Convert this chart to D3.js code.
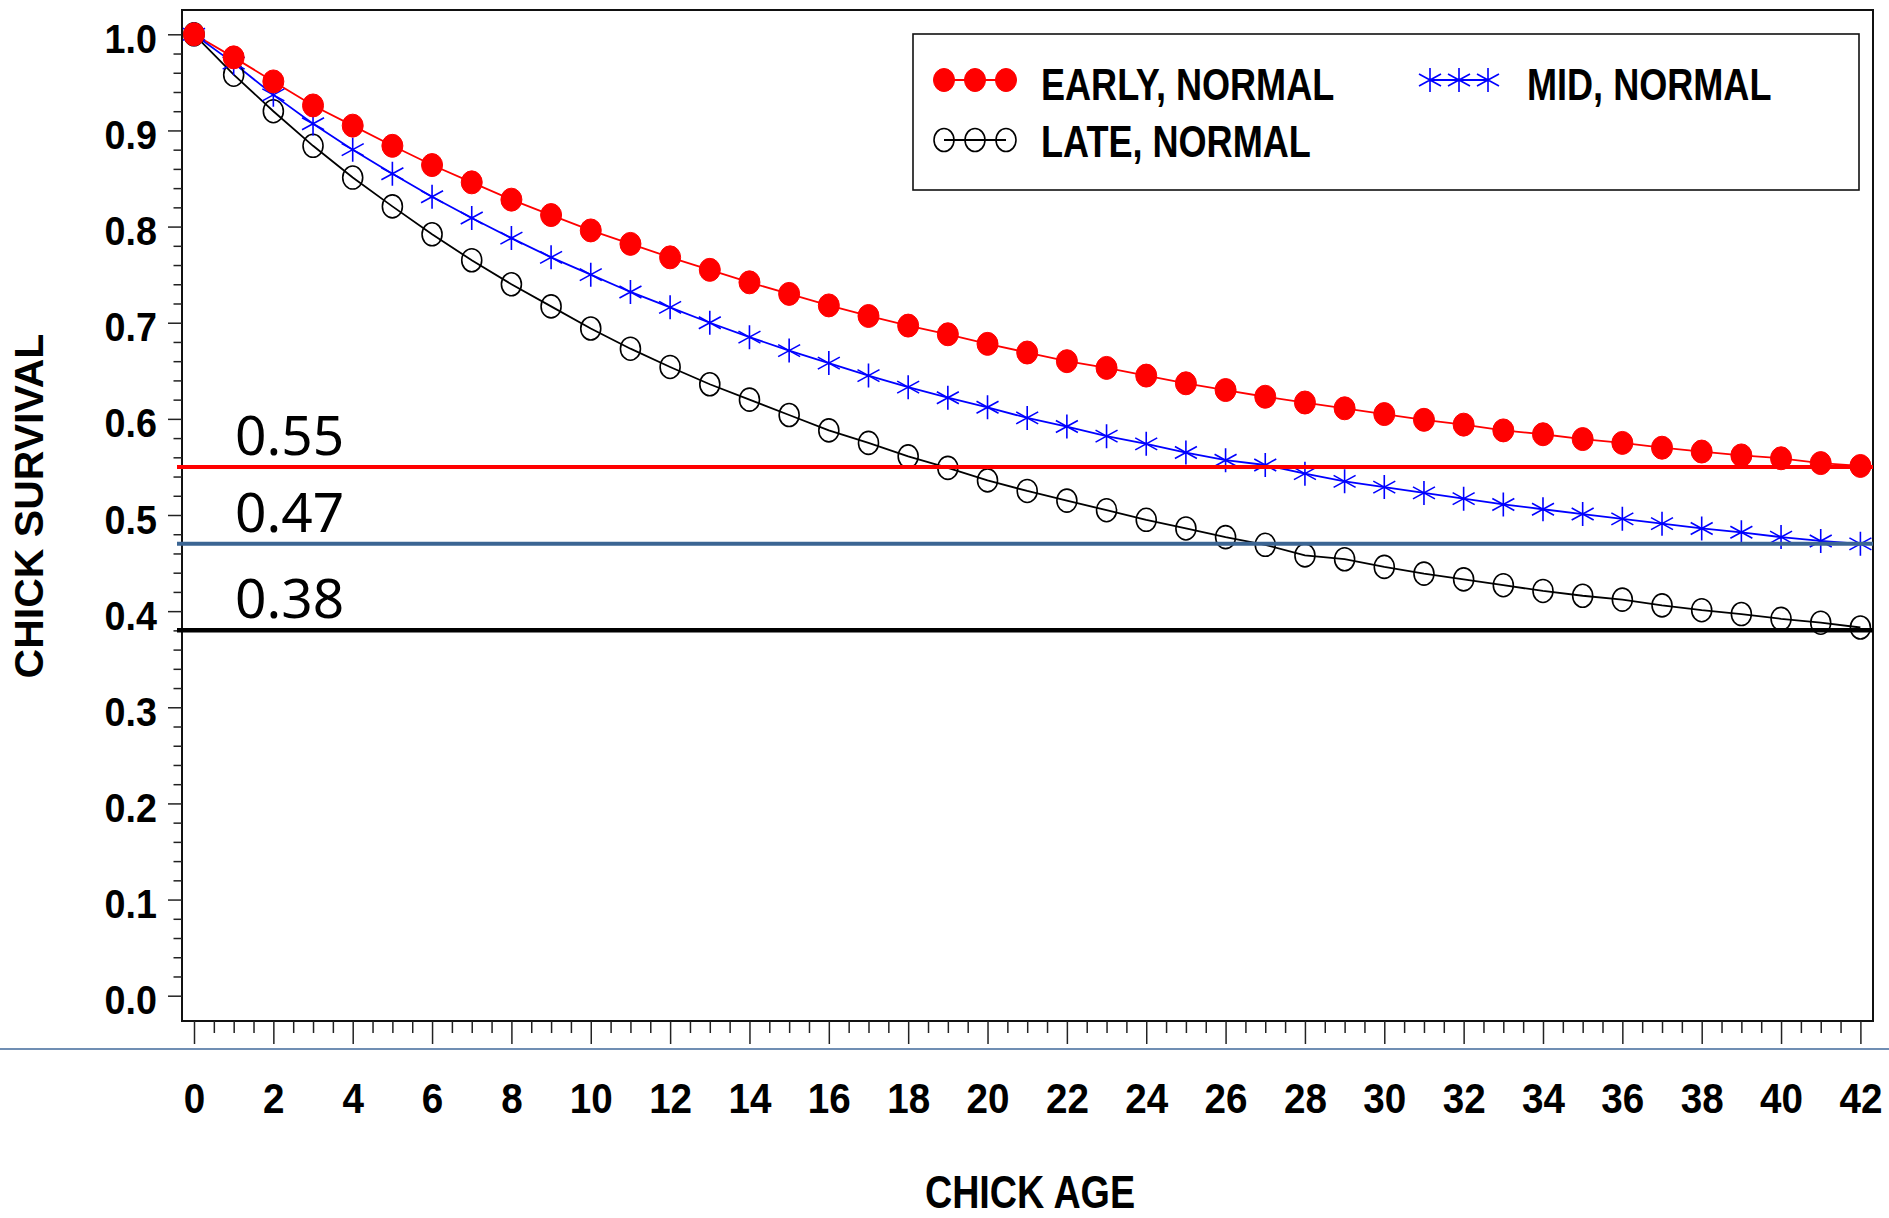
<!DOCTYPE html>
<html>
<head>
<meta charset="utf-8">
<script src="https://cdn.jsdelivr.net/npm/d3@7"></script>
<style>
  body { margin: 0; background: #fff; }
  svg { display: block; }
  .sas { font-family: "Liberation Sans", Arial, sans-serif; font-weight: bold; fill: #000; }
</style>
</head>
<body>
<svg id="chart"></svg>
<script>
// chick age (days)
const ages = [0,1,2,3,4,5,6,7,8,9,10,11,12,13,14,15,16,17,18,19,20,
  21,22,23,24,25,26,27,28,29,30,31,32,33,34,35,36,37,38,39,40,41,42];

const early = [1.000,0.976,0.951,0.926,0.905,0.884,0.864,0.846,0.828,0.812,0.796,
  0.782,0.768,0.755,0.742,0.730,0.718,0.707,0.697,0.688,0.678,0.669,0.660,0.653,
  0.645,0.637,0.630,0.623,0.617,0.611,0.605,0.599,0.594,0.588,0.584,0.579,0.575,
  0.570,0.566,0.562,0.559,0.554,0.551];
const mid = [1.000,0.970,0.937,0.907,0.880,0.855,0.831,0.809,0.788,0.768,0.750,
  0.732,0.716,0.700,0.685,0.671,0.658,0.645,0.633,0.622,0.612,0.601,0.592,0.582,
  0.574,0.565,0.557,0.552,0.543,0.535,0.529,0.523,0.517,0.511,0.506,0.501,0.496,
  0.491,0.486,0.482,0.477,0.473,0.470];
const late = [1.000,0.958,0.920,0.884,0.851,0.821,0.792,0.765,0.740,0.717,0.694,
  0.673,0.654,0.636,0.620,0.604,0.588,0.575,0.561,0.549,0.536,0.525,0.515,0.505,
  0.495,0.486,0.477,0.469,0.458,0.454,0.446,0.439,0.433,0.427,0.421,0.416,0.412,
  0.406,0.401,0.397,0.392,0.388,0.383];

const seriesNames = ["EARLY, NORMAL", "MID, NORMAL", "LATE, NORMAL"];
const refValues = [0.55, 0.47, 0.38];
const refLabels = ["0.55", "0.47", "0.38"];
const xTicks = [0,2,4,6,8,10,12,14,16,18,20,22,24,26,28,30,32,34,36,38,40,42];
const yTicks = [0.0,0.1,0.2,0.3,0.4,0.5,0.6,0.7,0.8,0.9,1.0];

const W = 1889, H = 1218;
const frame = {left: 182, right: 1873, top: 10, bottom: 1021};

const svg = d3.select("#chart").attr("width", W).attr("height", H);
svg.append("rect").attr("width", W).attr("height", H).attr("fill", "#fff");

const x = d3.scaleLinear().domain([0, 42]).range([194, 1860.4]);
const y = d3.scaleLinear().domain([0, 1]).range([995.7, 34.3]);

const colors = {early: "#ff0000", mid: "#0000ff", late: "#000000"};
const refColors = ["#ff0000", "#3b6593", "#000000"];

// condensed bold text like the SAS swiss font
function label(g, txt, tx, ty, size, sx, anchor) {
  return g.append("text").attr("class", "sas")
    .attr("transform", "translate(" + tx + "," + ty + ") scale(" + sx + ",1)")
    .attr("font-size", size)
    .attr("text-anchor", anchor || "start")
    .text(txt);
}

// markers
function drawDot(g, cx, cy) {
  g.append("ellipse").attr("cx", cx).attr("cy", cy).attr("rx", 10.5).attr("ry", 11.5)
    .attr("fill", colors.early).attr("stroke", colors.early).attr("stroke-width", 1);
}
function drawRing(g, cx, cy) {
  g.append("ellipse").attr("cx", cx).attr("cy", cy).attr("rx", 10).attr("ry", 11.5)
    .attr("fill", "none").attr("stroke", colors.late).attr("stroke-width", 1.6);
}
function drawStar(g, cx, cy) {
  const p = d3.path();
  p.moveTo(cx, cy - 12); p.lineTo(cx, cy + 12);
  p.moveTo(cx - 11, cy - 6); p.lineTo(cx + 11, cy + 6);
  p.moveTo(cx - 11, cy + 6); p.lineTo(cx + 11, cy - 6);
  g.append("path").attr("d", p.toString())
    .attr("fill", "none").attr("stroke", colors.mid).attr("stroke-width", 1.6);
}

// frame
svg.append("rect")
  .attr("x", frame.left).attr("y", frame.top)
  .attr("width", frame.right - frame.left).attr("height", frame.bottom - frame.top)
  .attr("fill", "none").attr("stroke", "#111").attr("stroke-width", 2);

// y axis
const yMinor = d3.range(0, 51).map(i => i / 50).filter(v => Math.round(v * 50) % 5 !== 0);
svg.append("g")
  .attr("transform", "translate(" + frame.left + ",0)")
  .call(d3.axisLeft(y).tickValues(yMinor).tickSize(8.5).tickFormat(""))
  .call(g => g.select(".domain").remove())
  .call(g => g.selectAll("line").attr("stroke", "#222").attr("stroke-width", 1.5));

const yAxisG = svg.append("g")
  .attr("transform", "translate(" + frame.left + ",0)")
  .call(d3.axisLeft(y).tickValues(yTicks).tickSize(14).tickFormat(d3.format(".1f")))
  .call(g => g.select(".domain").remove())
  .call(g => g.selectAll("line").attr("stroke", "#222").attr("stroke-width", 1.5));
yAxisG.selectAll("text")
  .attr("class", "sas").attr("font-size", 41)
  .attr("x", 0).attr("dy", null)
  .attr("transform", "translate(-25,18) scale(0.92,1)");

// x axis
const xMinor = d3.range(0, 85).map(i => i / 2).filter(v => v % 2 !== 0);
svg.append("g")
  .attr("transform", "translate(0," + frame.bottom + ")")
  .call(d3.axisBottom(x).tickValues(xMinor).tickSize(12).tickFormat(""))
  .call(g => g.select(".domain").remove())
  .call(g => g.selectAll("line").attr("stroke", "#222").attr("stroke-width", 1.5));

const xAxisG = svg.append("g")
  .attr("transform", "translate(0," + frame.bottom + ")")
  .call(d3.axisBottom(x).tickValues(xTicks).tickSize(23).tickFormat(d3.format("d")))
  .call(g => g.select(".domain").remove())
  .call(g => g.selectAll("line").attr("stroke", "#222").attr("stroke-width", 1.5));
xAxisG.selectAll("text")
  .attr("class", "sas").attr("font-size", 42)
  .attr("y", 0).attr("dy", null)
  .attr("transform", "translate(0,92) scale(0.92,1)");

// thin separator line under the tick marks
svg.append("line")
  .attr("x1", 0).attr("x2", W).attr("y1", 1049).attr("y2", 1049)
  .attr("stroke", "#41689a").attr("stroke-width", 1.5);

// axis titles
label(svg, "CHICK AGE", 1030, 1208, 46, 0.82, "middle");
label(svg, "CHICK SURVIVAL", 0, 0, 41, 1, "middle")
  .attr("transform", "translate(43,506) rotate(-90)");

// series
const line = d3.line().x((d, i) => x(ages[i])).y(d => y(d));
const plot = svg.append("g");
const data = [
  {key: "early", values: early, mark: drawDot},
  {key: "mid", values: mid, mark: drawStar},
  {key: "late", values: late, mark: drawRing}
];
data.forEach(s => {
  plot.append("path").datum(s.values)
    .attr("d", line).attr("fill", "none")
    .attr("stroke", colors[s.key]).attr("stroke-width", 1.8);
});
data.slice().reverse().forEach(s => {
  const g = plot.append("g");
  s.values.forEach((v, i) => s.mark(g, x(ages[i]), y(v)));
});

// reference lines, drawn on top
const refs = svg.append("g");
refValues.forEach((v, i) => {
  refs.append("line")
    .attr("x1", frame.left - 5).attr("x2", frame.right)
    .attr("y1", y(v)).attr("y2", y(v))
    .attr("stroke", refColors[i]).attr("stroke-width", i === 2 ? 4.5 : 4);
  refs.append("text")
    .attr("x", 235).attr("y", y(v) - 12)
    .attr("font-family", "'Noto Sans', 'Open Sans', sans-serif")
    .attr("font-size", 55).attr("fill", "#000")
    .text(refLabels[i]);
});

// legend
const lg = svg.append("g");
lg.append("rect").attr("x", 913).attr("y", 34).attr("width", 946).attr("height", 156)
  .attr("fill", "#fff").attr("stroke", "#111").attr("stroke-width", 1.6);

const legendItems = [
  {name: seriesNames[0], key: "early", mark: drawDot, mx: 944, my: 80, tx: 1041, ty: 100},
  {name: seriesNames[1], key: "mid", mark: drawStar, mx: 1430, my: 80, tx: 1527, ty: 100},
  {name: seriesNames[2], key: "late", mark: drawRing, mx: 944, my: 140, tx: 1041, ty: 157}
];
legendItems.forEach(it => {
  const step = it.key === "mid" ? 29 : 31;
  lg.append("line")
    .attr("x1", it.mx).attr("x2", it.mx + 2 * step)
    .attr("y1", it.my).attr("y2", it.my)
    .attr("stroke", colors[it.key]).attr("stroke-width", 1.8);
  [0, 1, 2].forEach(k => it.mark(lg, it.mx + k * step, it.my));
  label(lg, it.name, it.tx, it.ty, 44, 0.82);
});
</script>
</body>
</html>
